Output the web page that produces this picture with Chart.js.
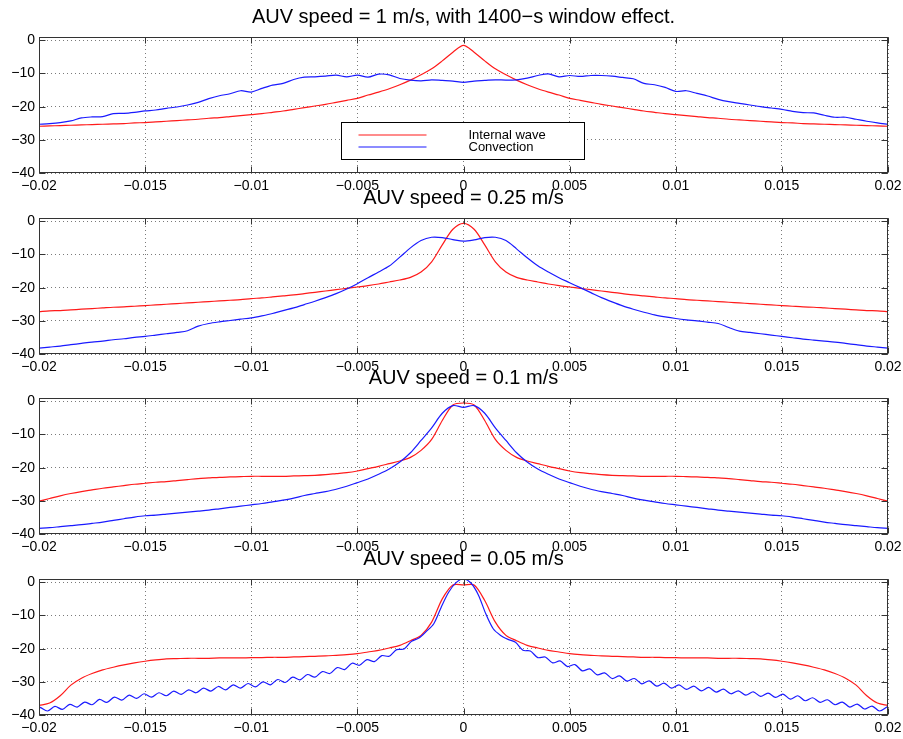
<!DOCTYPE html>
<html>
<head>
<meta charset="utf-8">
<title>AUV speed spectra</title>
<script src="https://cdn.jsdelivr.net/npm/chart.js@4.4.1/dist/chart.umd.min.js"></script>
<style>
  html, body { margin: 0; padding: 0; background: #fff; }
  #wrap { position: relative; width: 903px; height: 739px; overflow: hidden; }
  #wrap canvas { position: absolute; left: 0; }
</style>
</head>
<body>
<div id="wrap">
  <canvas id="c1" width="903" height="197" style="top:0px"></canvas>
  <canvas id="c2" width="903" height="197" style="top:181px"></canvas>
  <canvas id="c3" width="903" height="197" style="top:361px"></canvas>
  <canvas id="c4" width="903" height="197" style="top:542px"></canvas>
</div>
<script>
const titles = [
    'AUV speed = 1 m/s, with 1400\u2212s window effect.',
    'AUV speed = 0.25 m/s',
    'AUV speed = 0.1 m/s',
    'AUV speed = 0.05 m/s'
];
const seriesNames = ['Internal wave', 'Convection'];
const seriesColors = ['#ff1a1a', '#1a1aff'];

const xTickVals = [-0.02, -0.015, -0.01, -0.005, 0, 0.005, 0.01, 0.015, 0.02];
const xTickLabels = ['\u22120.02', '\u22120.015', '\u22120.01', '\u22120.005', '0', '0.005', '0.01', '0.015', '0.02'];
const yTickVals = [-40, -30, -20, -10, 0];
const yTickLabels = ['\u221240', '\u221230', '\u221220', '\u221210', '0'];

// sample positions shared by the smooth curves
const xs = [-0.02, -0.0195, -0.019, -0.0185, -0.018, -0.0175, -0.017, -0.0165, -0.016, -0.0155,
    -0.015, -0.0145, -0.014, -0.0135, -0.013, -0.0125, -0.012, -0.0115, -0.011, -0.0105,
    -0.01, -0.0095, -0.009, -0.0085, -0.008, -0.0075, -0.007, -0.0065, -0.006, -0.0055,
    -0.005, -0.0045, -0.004, -0.0035, -0.003, -0.0025, -0.002, -0.0015, -0.001, -0.0005,
    0,
    0.0005, 0.001, 0.0015, 0.002, 0.0025, 0.003, 0.0035, 0.004, 0.0045, 0.005,
    0.0055, 0.006, 0.0065, 0.007, 0.0075, 0.008, 0.0085, 0.009, 0.0095, 0.01,
    0.0105, 0.011, 0.0115, 0.012, 0.0125, 0.013, 0.0135, 0.014, 0.0145, 0.015,
    0.0155, 0.016, 0.0165, 0.017, 0.0175, 0.018, 0.0185, 0.019, 0.0195, 0.02];

// AUV 1 m/s
const wave1 = [-25.9, -25.8, -25.7, -25.6, -25.5, -25.4, -25.3, -25.2, -25.1, -24.9,
    -24.8, -24.6, -24.4, -24.2, -24.0, -23.8, -23.5, -23.3, -23.0, -22.7,
    -22.4, -22.1, -21.7, -21.3, -20.8, -20.3, -19.8, -19.3, -18.7, -18.1,
    -17.5, -16.5, -15.6, -14.6, -13.4, -12.0, -10.4, -8.6, -6.2, -3.6,
    -1.5,
    -3.6, -6.2, -8.6, -10.4, -12.0, -13.4, -14.6, -15.6, -16.5, -17.5,
    -18.1, -18.7, -19.3, -19.8, -20.3, -20.8, -21.3, -21.7, -22.1, -22.4,
    -22.7, -23.0, -23.3, -23.5, -23.8, -24.0, -24.2, -24.4, -24.6, -24.8,
    -24.9, -25.1, -25.2, -25.3, -25.4, -25.5, -25.6, -25.7, -25.8, -25.9];
const conv1 = [-25.3, -25.1, -24.8, -24.3, -23.4, -23.1, -23.0, -22.1, -22.0, -21.7,
    -21.3, -21.0, -20.5, -20.1, -19.5, -18.7, -17.6, -16.7, -16.1, -15.2,
    -15.6, -14.5, -13.5, -13.0, -11.8, -11.1, -11.0, -10.8, -10.5, -11.0,
    -10.5, -11.1, -10.2, -10.4, -11.5, -12.0, -12.2, -11.9, -12.1, -12.3,
    -12.7,
    -12.3, -12.1, -11.9, -12.0, -11.9, -11.4, -10.6, -10.1, -11.0, -10.6,
    -10.9, -10.6, -10.6, -10.8, -11.2, -11.6, -13.0, -13.4, -14.2, -15.4,
    -15.2, -16.0, -16.8, -17.8, -18.5, -19.0, -19.5, -20.0, -20.4, -20.8,
    -21.4, -21.8, -21.9, -22.6, -23.2, -23.2, -23.8, -24.4, -24.9, -25.3];

// AUV 0.25 m/s
const wave2 = [-27.2, -27.0, -26.9, -26.7, -26.5, -26.3, -26.1, -25.9, -25.8, -25.6,
    -25.4, -25.2, -25.0, -24.8, -24.6, -24.4, -24.2, -24.0, -23.8, -23.6,
    -23.3, -23.1, -22.8, -22.5, -22.2, -21.8, -21.4, -21.0, -20.6, -20.2,
    -19.8, -19.4, -18.9, -18.3, -17.7, -16.9, -15.3, -12.2, -7.1, -2.4,
    -0.6,
    -2.4, -7.1, -12.2, -15.3, -16.9, -17.7, -18.3, -18.9, -19.4, -19.8,
    -20.2, -20.6, -21.0, -21.4, -21.8, -22.2, -22.5, -22.8, -23.1, -23.3,
    -23.6, -23.8, -24.0, -24.2, -24.4, -24.6, -24.8, -25.0, -25.2, -25.4,
    -25.6, -25.8, -25.9, -26.1, -26.3, -26.5, -26.7, -26.9, -27.0, -27.2];
const conv2 = [-38.2, -37.9, -37.6, -37.2, -36.8, -36.4, -36.1, -35.7, -35.4, -35.0,
    -34.7, -34.3, -33.9, -33.5, -33.0, -31.6, -30.8, -30.3, -29.9, -29.5,
    -29.1, -28.5, -27.8, -26.9, -26.1, -25.1, -24.1, -23.0, -21.8, -20.4,
    -18.8, -17.0, -15.3, -13.5, -10.8, -8.0, -5.8, -4.8, -4.9, -5.5,
    -6.0,
    -5.6, -4.9, -4.8, -5.8, -8.3, -11.0, -13.4, -15.3, -17.0, -18.5,
    -20.0, -21.5, -23.0, -24.3, -25.5, -26.5, -27.4, -28.2, -28.8, -29.3,
    -29.7, -30.0, -30.4, -30.8, -32.0, -33.1, -33.5, -33.9, -34.3, -34.7,
    -35.1, -35.5, -35.8, -36.1, -36.4, -36.8, -37.2, -37.6, -37.9, -38.2];

// AUV 0.1 m/s
const wave3 = [-30.1, -29.3, -28.5, -27.8, -27.2, -26.7, -26.2, -25.8, -25.4, -25.0,
    -24.7, -24.4, -24.2, -23.9, -23.6, -23.3, -23.1, -22.9, -22.8, -22.7,
    -22.6, -22.6, -22.6, -22.6, -22.5, -22.4, -22.3, -22.1, -21.8, -21.5,
    -21.0, -20.3, -19.6, -18.8, -18.0, -16.9, -14.8, -11.5, -5.8, -1.1,
    -0.5,
    -1.1, -5.8, -11.5, -14.8, -16.9, -18.0, -18.8, -19.6, -20.3, -21.0,
    -21.5, -21.8, -22.1, -22.3, -22.4, -22.5, -22.6, -22.6, -22.6, -22.6,
    -22.7, -22.8, -22.9, -23.1, -23.3, -23.6, -23.9, -24.2, -24.4, -24.7,
    -25.0, -25.4, -25.8, -26.2, -26.7, -27.2, -27.8, -28.5, -29.3, -30.1];
const conv3 = [-38.3, -38.1, -37.8, -37.5, -37.2, -36.8, -36.4, -35.9, -35.4, -34.9,
    -34.5, -34.3, -34.0, -33.7, -33.4, -33.1, -32.8, -32.4, -32.0, -31.6,
    -31.2, -30.8, -30.3, -29.8, -29.2, -28.4, -27.8, -27.2, -26.5, -25.6,
    -24.5, -23.4, -22.0, -20.4, -18.3, -15.5, -11.8, -8.0, -3.6, -1.3,
    -1.8,
    -1.3, -3.6, -8.0, -11.8, -15.5, -18.3, -20.4, -22.0, -23.4, -24.5,
    -25.6, -26.5, -27.2, -27.8, -28.4, -29.2, -29.8, -30.3, -30.8, -31.2,
    -31.6, -32.0, -32.4, -32.8, -33.1, -33.4, -33.7, -34.0, -34.3, -34.5,
    -34.9, -35.4, -35.9, -36.4, -36.8, -37.2, -37.5, -37.8, -38.1, -38.3];

// AUV 0.05 m/s
const wave4 = [-37.1, -36.4, -34.2, -31.0, -28.9, -27.5, -26.4, -25.6, -24.9, -24.3,
    -23.8, -23.4, -23.1, -23.0, -22.9, -22.9, -22.9, -22.8, -22.8, -22.8,
    -22.7, -22.7, -22.6, -22.6, -22.5, -22.4, -22.3, -22.2, -22.0, -21.8,
    -21.5, -21.0, -20.5, -19.8, -19.0, -17.6, -16.0, -12.0, -5.0, -0.8,
    -0.8,
    -0.8, -5.5, -12.0, -16.0, -17.6, -19.0, -19.8, -20.5, -21.0, -21.5,
    -21.8, -22.0, -22.2, -22.3, -22.4, -22.5, -22.6, -22.6, -22.7, -22.7,
    -22.8, -22.8, -22.8, -22.9, -22.9, -22.9, -23.0, -23.1, -23.4, -23.8,
    -24.3, -24.9, -25.6, -26.4, -27.5, -28.9, -31.0, -34.2, -36.4, -37.1];

// the rippled convection curve needs a finer sampling of its own
const conv4X = [-0.02, -0.01995, -0.0196, -0.01925, -0.0189, -0.01855, -0.0182, -0.01785, -0.0175, -0.01715,
    -0.0168, -0.01645, -0.0161, -0.01575, -0.0154, -0.01505, -0.0147, -0.01435, -0.014, -0.01365,
    -0.0133, -0.01295, -0.0126, -0.01225, -0.0119, -0.01155, -0.0112, -0.01085, -0.0105, -0.01015,
    -0.0098, -0.00945, -0.0091, -0.00875, -0.0084, -0.00805, -0.0077, -0.00735, -0.007, -0.00665,
    -0.0063, -0.00595, -0.0056, -0.00525, -0.0049, -0.00455, -0.0042, -0.00385, -0.0035, -0.00315,
    -0.0028, -0.00245, -0.0021, -0.00175, -0.0014, -0.00105, -0.0007, -0.00035,
    0,
    0.00035, 0.0007, 0.00105, 0.0014, 0.00175, 0.0021, 0.00245, 0.0028, 0.00315, 0.0035,
    0.00385, 0.0042, 0.00455, 0.0049, 0.00525, 0.0056, 0.00595, 0.0063, 0.00665, 0.007,
    0.00735, 0.0077, 0.00805, 0.0084, 0.00875, 0.0091, 0.00945, 0.0098, 0.01015, 0.0105,
    0.01085, 0.0112, 0.01155, 0.0119, 0.01225, 0.0126, 0.01295, 0.0133, 0.01365, 0.014,
    0.01435, 0.0147, 0.01505, 0.0154, 0.01575, 0.0161, 0.01645, 0.0168, 0.01715, 0.0175,
    0.01785, 0.0182, 0.01855, 0.0189, 0.01925, 0.0196, 0.01995, 0.02];
const conv4Y = [-38.0, -37.7, -38.8, -37.4, -38.3, -36.8, -37.6, -36.1, -36.9, -35.3,
    -36.2, -34.6, -35.5, -34.0, -35.0, -33.6, -34.6, -33.3, -34.2, -32.8,
    -33.8, -32.4, -33.3, -31.9, -32.8, -31.4, -32.4, -30.9, -31.9, -30.5,
    -31.5, -30.0, -30.9, -29.3, -30.2, -28.6, -29.4, -27.8, -28.6, -26.9,
    -27.5, -25.7, -26.3, -24.4, -25.0, -23.3, -23.9, -22.1, -22.3, -20.3,
    -20.1, -17.8, -16.8, -14.8, -12.5, -7.5, -3.0, -0.1,
    1.0,
    -0.2, -3.8, -9.5, -14.0, -16.0, -17.2, -18.1, -20.5, -20.7, -22.7,
    -22.5, -24.3, -23.7, -25.4, -24.8, -26.7, -26.1, -27.9, -27.3, -29.0,
    -28.2, -29.8, -29.0, -30.6, -29.7, -31.3, -30.4, -31.9, -30.9, -32.3,
    -31.3, -32.7, -31.7, -33.1, -32.2, -33.6, -32.7, -34.0, -33.0, -34.4,
    -33.4, -34.7, -33.7, -35.2, -34.2, -35.7, -34.8, -36.2, -35.4, -36.9,
    -36.1, -37.6, -36.7, -38.2, -37.3, -38.8, -37.6, -37.4];

const FONT = "'Liberation Sans', Arial, Helvetica, sans-serif";
Chart.defaults.font.family = FONT;
Chart.defaults.font.size = 14;
Chart.defaults.color = '#000';

function pts(xv, yv) {
    return xv.map((x, i) => ({ x: x, y: yv[i] }));
}

// box round the axes with inward ticks, like the original figure
const framePlugin = {
    id: 'frame',
    afterDraw(chart) {
        const { ctx, chartArea: a, scales } = chart;
        const L = Math.round(a.left) + 0.5, R = Math.round(a.right) - 0.5;
        const T = Math.round(a.top) + 0.5, B = Math.round(a.bottom) - 0.5;
        ctx.save();
        ctx.strokeStyle = '#333';
        ctx.lineWidth = 1;
        ctx.beginPath();
        xTickVals.forEach(v => {
            const p = Math.round(scales.x.getPixelForValue(v)) + 0.5;
            ctx.moveTo(p, B); ctx.lineTo(p, B - 6);
            ctx.moveTo(p, T); ctx.lineTo(p, T + 6);
        });
        yTickVals.forEach(v => {
            const p = Math.round(scales.y.getPixelForValue(v)) + 0.5;
            ctx.moveTo(L, p); ctx.lineTo(L + 6, p);
            ctx.moveTo(R, p); ctx.lineTo(R - 6, p);
        });
        ctx.stroke();
        ctx.strokeRect(L, T, R - L, B - T);
        ctx.restore();
    }
};

// boxed legend inside the first panel
const legendPlugin = {
    id: 'boxLegend',
    afterDraw(chart) {
        const { ctx, chartArea: a } = chart;
        const left = Math.round(a.left + 302) + 0.5, top = Math.round(a.top + 85) + 0.5;
        ctx.save();
        ctx.fillStyle = '#fff';
        ctx.fillRect(left, top, 243, 37);
        ctx.strokeStyle = '#000';
        ctx.lineWidth = 1;
        ctx.strokeRect(left, top, 243, 37);
        ctx.font = '13px ' + FONT;
        ctx.textBaseline = 'middle';
        chart.data.datasets.forEach((ds, i) => {
            const cy = Math.round(top + 12 + i * 12.4);
            ctx.strokeStyle = ds.borderColor;
            ctx.lineWidth = ds.borderWidth;
            ctx.beginPath();
            ctx.moveTo(left + 17, cy);
            ctx.lineTo(left + 85, cy);
            ctx.stroke();
            ctx.fillStyle = '#000';
            ctx.fillText(ds.label, left + 127, cy + 0.5);
        });
        ctx.restore();
    }
};

function makeChart(id, title, waveData, convData, withLegend) {
    const gridOpts = { color: '#7a7a7a', lineWidth: 1, drawTicks: false };
    const borderOpts = { display: false, dash: [1, 3] };
    return new Chart(document.getElementById(id), {
        type: 'line',
        data: {
            datasets: [{
                label: seriesNames[0],
                data: waveData,
                borderColor: seriesColors[0],
                borderWidth: 1.2,
                pointRadius: 0,
                tension: 0.3,
                fill: false,
                order: 1
            }, {
                label: seriesNames[1],
                data: convData,
                borderColor: seriesColors[1],
                borderWidth: 1.2,
                pointRadius: 0,
                tension: 0.3,
                fill: false,
                order: 0
            }]
        },
        options: {
            responsive: false,
            animation: false,
            events: [],
            layout: { padding: { right: 15 } },
            plugins: {
                legend: { display: false },
                tooltip: { enabled: false },
                title: {
                    display: true,
                    text: title,
                    fullSize: false,
                    color: '#000',
                    font: { size: 20, weight: 'normal' },
                    padding: { top: 5, bottom: 8 }
                }
            },
            scales: {
                x: {
                    type: 'linear',
                    min: -0.02,
                    max: 0.02,
                    afterBuildTicks: s => { s.ticks = xTickVals.map(v => ({ value: v })); },
                    afterFit: s => { s.height = 24; s.paddingLeft = 0; s.paddingRight = 0; },
                    ticks: {
                        autoSkip: false, maxRotation: 0, minRotation: 0, padding: 5,
                        color: '#000',
                        callback: (v, i) => xTickLabels[i]
                    },
                    grid: gridOpts,
                    border: borderOpts
                },
                y: {
                    type: 'linear',
                    min: -40,
                    max: 1,
                    afterBuildTicks: s => { s.ticks = yTickVals.map(v => ({ value: v })); },
                    afterFit: s => { s.width = 39; },
                    ticks: {
                        autoSkip: false, padding: 4,
                        color: '#000',
                        callback: (v, i) => yTickLabels[i]
                    },
                    grid: gridOpts,
                    border: borderOpts
                }
            }
        },
        plugins: withLegend ? [framePlugin, legendPlugin] : [framePlugin]
    });
}

makeChart('c1', titles[0], pts(xs, wave1), pts(xs, conv1), true);
makeChart('c2', titles[1], pts(xs, wave2), pts(xs, conv2), false);
makeChart('c3', titles[2], pts(xs, wave3), pts(xs, conv3), false);
makeChart('c4', titles[3], pts(xs, wave4), pts(conv4X, conv4Y), false);
</script>
</body>
</html>
